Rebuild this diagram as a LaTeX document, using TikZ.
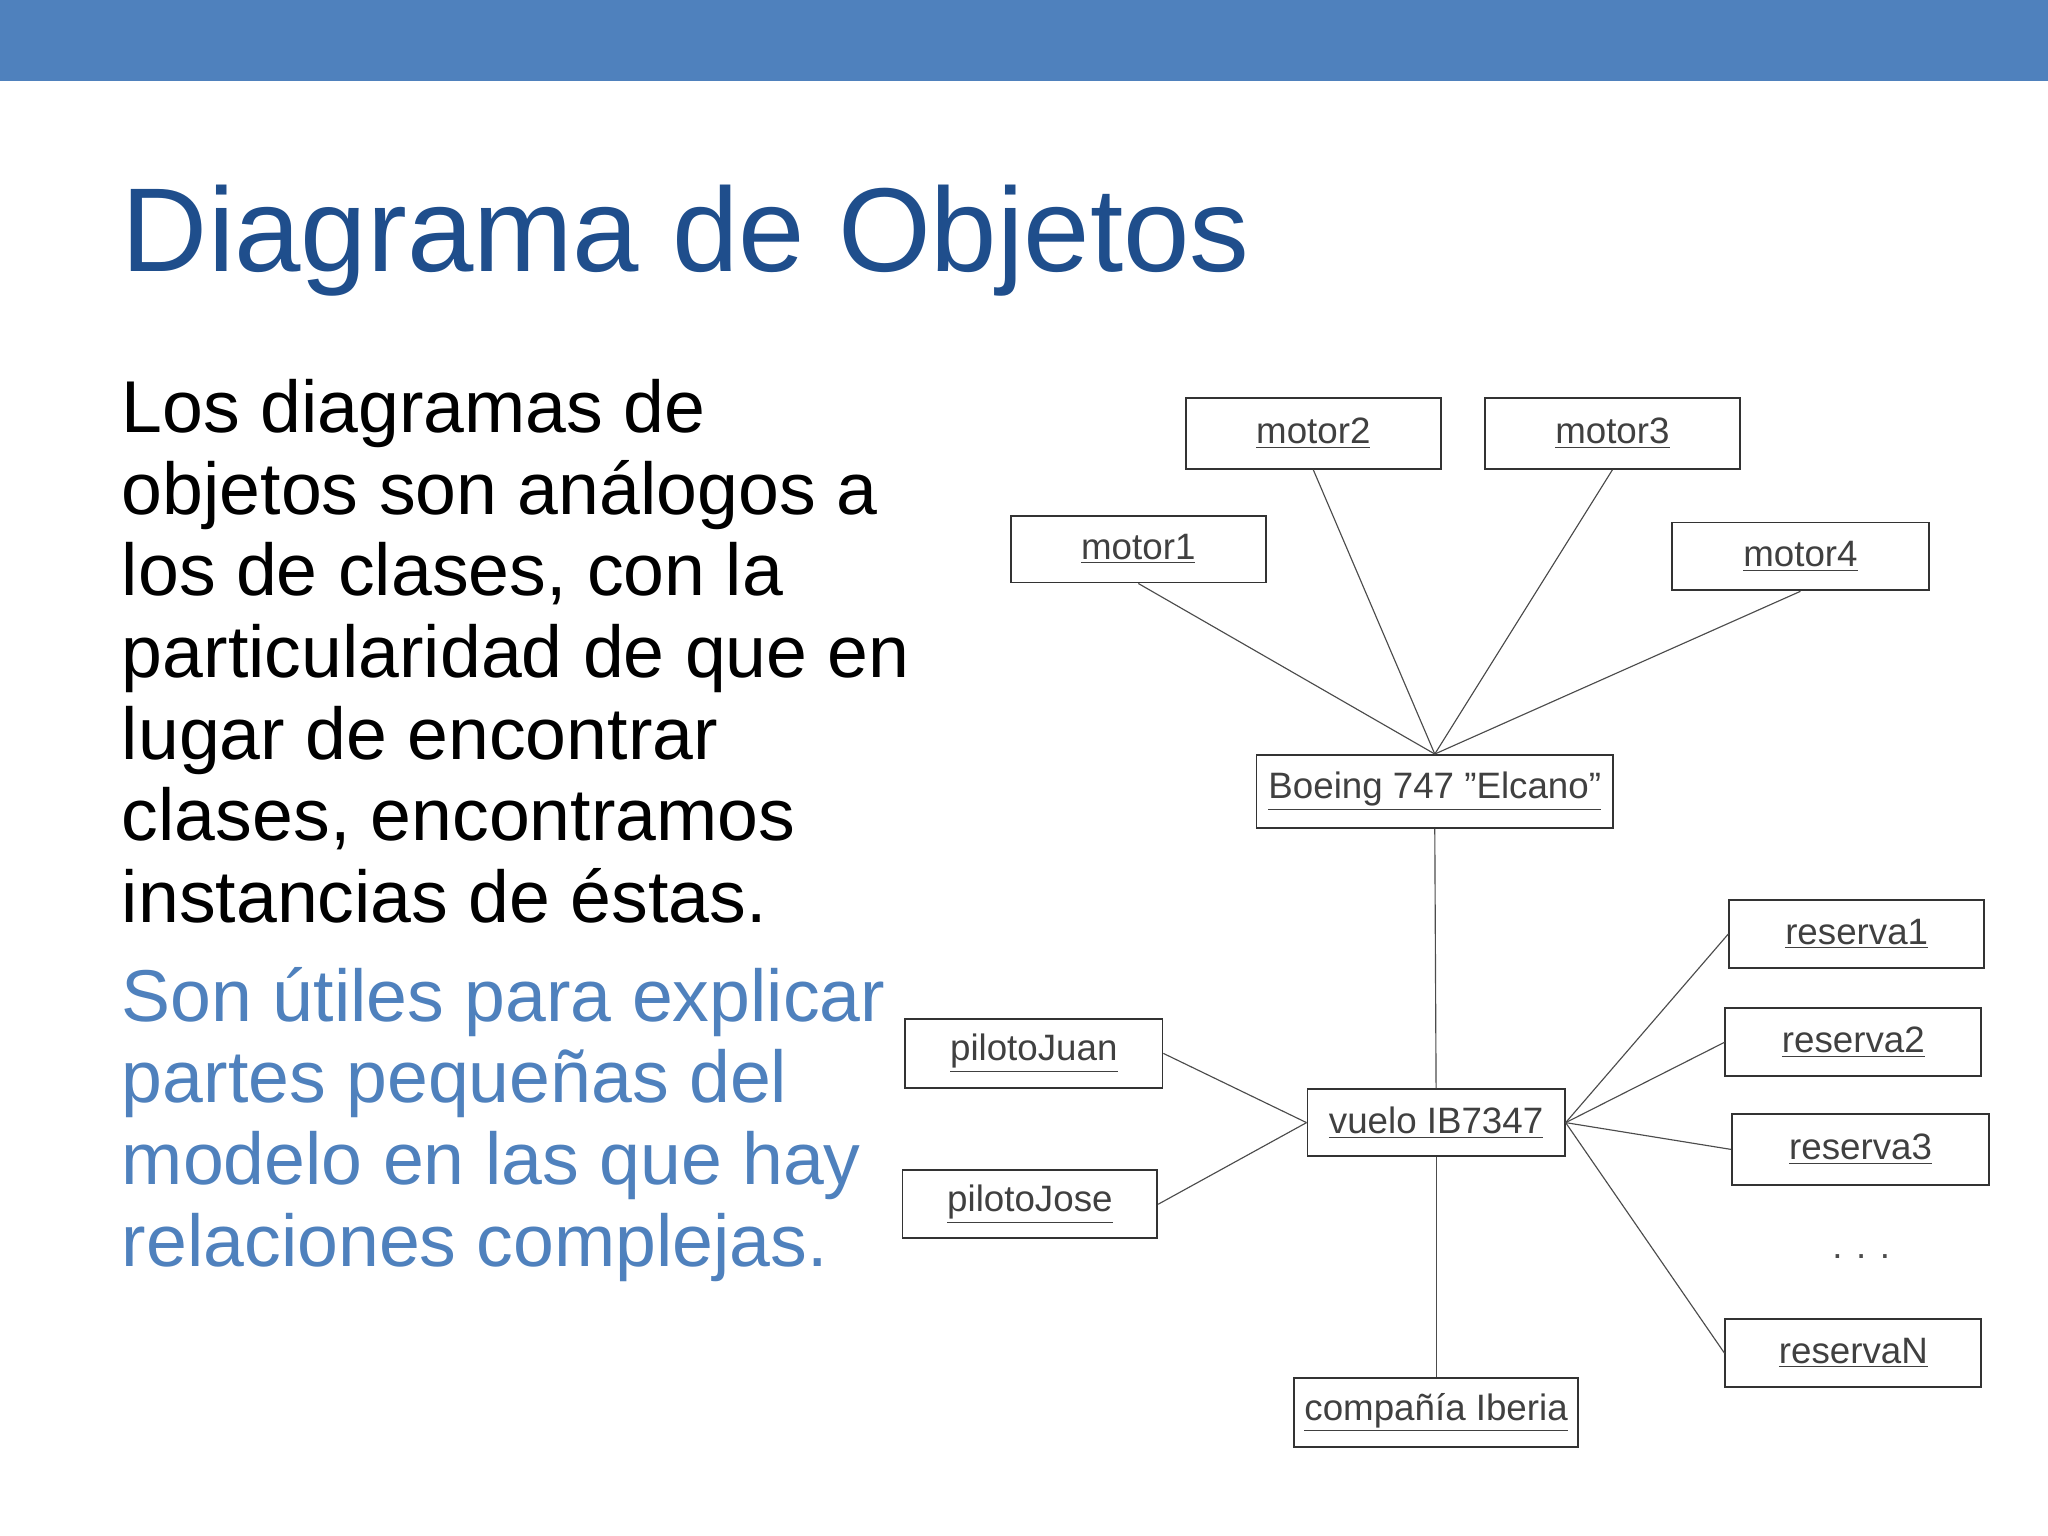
\documentclass[tikz,border=0pt]{standalone}
\usepackage{fontspec}
\setmainfont{Liberation Sans}
\definecolor{bar}{HTML}{4F81BD}
\definecolor{ttl}{HTML}{1F4E8C}
\begin{document}
\begin{tikzpicture}[x=0.02cm,y=-0.02cm,
 obj/.style={draw=black!80,line width=0.8pt,inner sep=0pt,font=\fontsize{16}{18}\selectfont,text=black!75},
 lnk/.style={draw=black!70,line width=0.5pt}]
\useasboundingbox (0,0) rectangle (1568,1176);
\fill[bar] (0,0) rectangle (1568,62);
\node[anchor=base west,inner sep=0,text=ttl,font=\fontsize{52}{60}\selectfont] (title) at (93,208) {Diagrama de Objetos};
\node[anchor=north west,inner sep=0,align=left,font=\fontsize{32}{35.6}\selectfont] (body) at (93,290) {Los diagramas de\\objetos son análogos a\\los de clases, con la\\particularidad de que en\\lugar de encontrar\\clases, encontramos\\instancias de éstas.};
\node[anchor=north west,inner sep=0,align=left,text=bar,font=\fontsize{32}{35.6}\selectfont] (body2) at (93,740) {Son útiles para explicar\\partes pequeñas del\\modelo en las que hay\\relaciones complejas.};
\newcommand\obj[6]{\node[obj,minimum width={(#4-#2)*0.02cm},minimum height={(#5-#3)*0.02cm}] (#1) at ({(#2+#4)/2},{(#3+#5)/2}) {\underline{#6}};}
\obj{m2}{908}{305}{1103}{359}{motor2}
\obj{m3}{1137}{305}{1332}{359}{motor3}
\obj{m1}{774}{395}{969}{446}{motor1}
\obj{m4}{1280}{400}{1477}{452}{motor4}
\obj{boe}{962}{578}{1235}{634}{Boeing 747 "Elcano"}
\obj{r1}{1324}{689}{1519}{741}{reserva1}
\obj{r2}{1321}{772}{1517}{824}{reserva2}
\obj{r3}{1326}{853}{1523}{907}{reserva3}
\obj{rN}{1321}{1010}{1517}{1062}{reservaN}
\obj{pj}{693}{780}{890}{833}{pilotoJuan}
\obj{pjo}{691}{896}{886}{948}{pilotoJose}
\obj{vu}{1001}{834}{1198}{885}{vuelo IB7347}
\obj{co}{991}{1055}{1208}{1108}{compañía Iberia}
\node[font=\fontsize{16}{18}\selectfont,text=black!70] (dots) at (1425,962) {. . .};
\foreach \m in {m1,m2,m3,m4} \draw[lnk] (\m.south) -- (boe.north);
\draw[lnk] (boe.south) -- (vu.north);
\draw[lnk] (vu.south) -- (co.north);
\draw[lnk] (pj.east) -- (vu.west);
\draw[lnk] (pjo.east) -- (vu.west);
\foreach \r in {r1,r2,r3,rN} \draw[lnk] (vu.east) -- (\r.west);
\end{tikzpicture}
\end{document}
